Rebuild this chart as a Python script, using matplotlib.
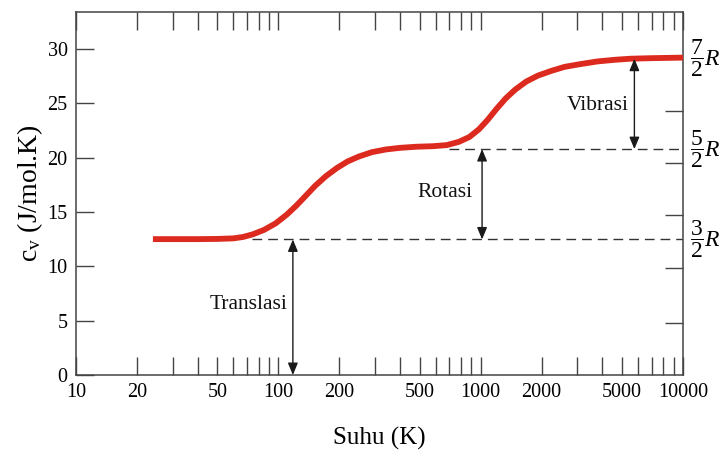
import numpy as np
import matplotlib
matplotlib.use("Agg")
import matplotlib.pyplot as plt
from matplotlib.transforms import blended_transform_factory

plt.rcParams['font.family'] = ['Liberation Serif', 'DejaVu Serif']
plt.rcParams['mathtext.fontset'] = 'custom'
plt.rcParams['mathtext.rm'] = 'Liberation Serif'
plt.rcParams['mathtext.it'] = 'Liberation Serif:italic'

# curve: temperature (K) vs molar heat capacity
temp_k = [24, 40, 50, 60, 67, 75, 85, 97, 110, 123, 136, 152, 172, 195, 220,
          250, 290, 340, 400, 480, 580, 680, 780, 880, 980, 1080, 1200, 1330,
          1480, 1680, 1920, 2250, 2600, 3100, 3780, 4600, 5500, 7000, 10000]
cv = [12.5, 12.5, 12.52, 12.57, 12.7, 12.95, 13.35, 13.95, 14.75, 15.6, 16.45,
      17.4, 18.3, 19.05, 19.65, 20.1, 20.5, 20.75, 20.9, 21.0, 21.05, 21.15,
      21.45, 21.9, 22.6, 23.45, 24.5, 25.45, 26.25, 27.0, 27.55, 28.0, 28.35,
      28.6, 28.85, 29.0, 29.1, 29.15, 29.2]

R = 8.314
levels = [1.5 * R, 2.5 * R, 3.5 * R]
level_labels = [r'$\dfrac{3}{2}R$', r'$\dfrac{5}{2}R$', r'$\dfrac{7}{2}R$']
dash_start = [74, 700]          # where the 3/2R and 5/2R dashed lines begin

x_labels = [10, 20, 50, 100, 200, 500, 1000, 2000, 5000, 10000]
x_minor = [v * m for v in (10, 100, 1000) for m in range(2, 10)] + [100, 1000]
y_ticks = [0, 5, 10, 15, 20, 25, 30]
right_ticks = [4.8, 9.8, 14.7, 19.5, 24.3]

# arrows: (x, bottom, top) and labels
arrows = [(118, 0, levels[0]), (1016, levels[0], levels[1]), (5750, levels[1], levels[2])]
notes = [('Translasi', 71, 6.45), ('Rotasi', 668, 16.75), ('Vibrasi', 3777, 24.8)]

fig = plt.figure(figsize=(7.23, 4.5), dpi=100)
ax = fig.add_axes([0.1051, 0.1667, 0.8396, 0.8067])
ax.set_xscale('log')
ax.set_xlim(10, 10000)
ax.set_ylim(0, 33.4)

ax.plot(temp_k, cv, color='#dc2a1f', lw=4.2, solid_capstyle='butt',
        solid_joinstyle='round', zorder=3)

for lv, xs in zip(levels[:2], dash_start):
    ax.plot([xs, 10000], [lv, lv], color='#333333', lw=1, ls=(0, (7, 4.3)), zorder=2)

for x, y0, y1 in arrows:
    ax.annotate('', xy=(x, y0), xytext=(x, y1),
                arrowprops=dict(arrowstyle='<|-|>,head_length=0.6,head_width=0.25',
                                color='#1a1a1a', lw=1, mutation_scale=12,
                                shrinkA=0, shrinkB=0))

for txt, x, y in notes:
    ax.text(x, y, txt, ha='center', va='center', fontsize=15.5, color='#111111')

trans = blended_transform_factory(ax.transAxes, ax.transData)
for lv, lab in zip(levels, level_labels):
    ax.text(1.012, lv, lab, transform=trans, ha='left', va='center', fontsize=17)

ax.set_xticks(x_labels, [str(v) for v in x_labels])
ax.set_xticks(x_minor, minor=True)
ax.xaxis.set_minor_formatter(matplotlib.ticker.NullFormatter())
ax.set_yticks(y_ticks)

spine_col = '#444444'
for s in ax.spines.values():
    s.set_color(spine_col)
    s.set_linewidth(1.1)

ax.tick_params(axis='x', which='both', direction='in', length=13, width=1,
               color=spine_col, top=True, labelsize=14.5, pad=6)
ax.tick_params(axis='y', which='both', direction='in', length=13, width=1,
               color=spine_col, labelsize=14.5, pad=6)

ax2 = ax.twinx()
ax2.set_ylim(0, 33.4)
ax2.set_yticks(right_ticks)
ax2.set_yticklabels([])
ax2.tick_params(axis='y', direction='in', length=13, width=1, color=spine_col)
for s in ax2.spines.values():
    s.set_visible(False)

ax.set_xlabel('Suhu (K)', fontsize=18, labelpad=18)
ax.set_ylabel(r'c$_\mathrm{v}$ (J/mol.K)', fontsize=20, labelpad=2)

fig.savefig('out.png', dpi=100)
